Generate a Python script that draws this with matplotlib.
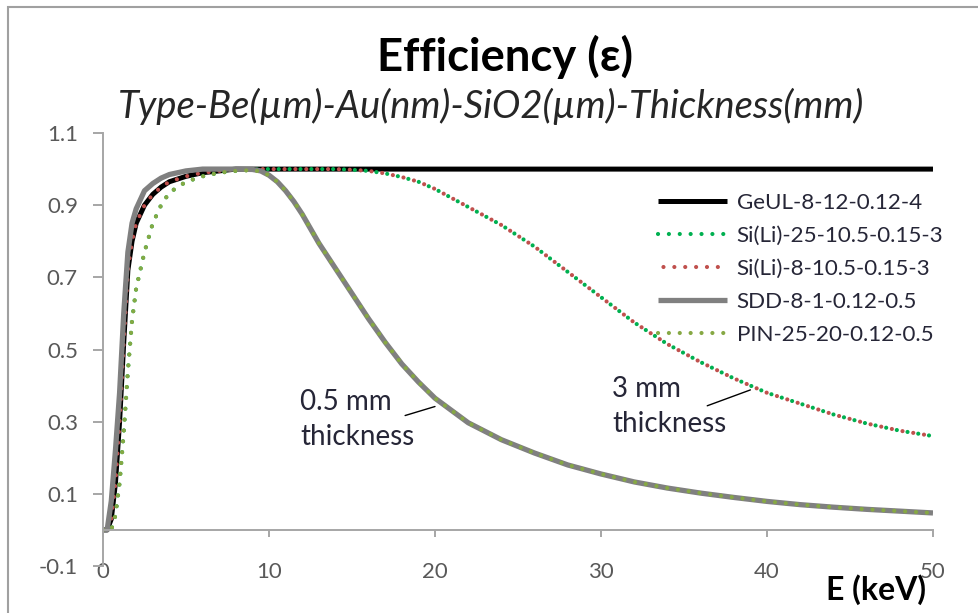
import numpy as np
import matplotlib
matplotlib.use("Agg")
import matplotlib.pyplot as plt
from matplotlib.patches import Rectangle

plt.rcParams["font.family"] = ["Lato", "DejaVu Sans"]

# photon energy (keV) and detection efficiency for each detector
energy = [0, 0.25, 0.5, 0.75, 1.0, 1.25, 1.5, 1.75, 2.0, 2.5, 3, 3.5, 4, 5, 6, 7, 8, 9,
          9.5, 10, 10.5, 11, 11.5, 12, 12.5, 13, 14, 15, 16, 17, 18, 19, 20, 22, 24, 26, 28, 30,
          32, 34, 36, 38, 40, 42, 44, 46, 48, 50]

geul = [0, 0, 0.03, 0.13, 0.30, 0.52, 0.72, 0.80, 0.85, 0.90, 0.93, 0.95, 0.965, 0.98, 0.99, 0.995, 1.0, 1.0,
        1.0, 1.0, 1.0, 1.0, 1.0, 1.0, 1.0, 1.0, 1.0, 1.0, 1.0, 1.0, 1.0, 1.0, 1.0, 1.0, 1.0, 1.0, 1.0, 1.0,
        1.0, 1.0, 1.0, 1.0, 1.0, 1.0, 1.0, 1.0, 1.0, 1.0]

sili_25 = [0, 0, 0, 0.04, 0.13, 0.27, 0.44, 0.58, 0.67, 0.77, 0.85, 0.90, 0.935, 0.965, 0.98, 0.99, 0.995, 0.998,
           1.0, 1.0, 1.0, 1.0, 1.0, 1.0, 1.0, 1.0, 1.0, 0.998, 0.995, 0.988, 0.978, 0.965, 0.945, 0.895, 0.845, 0.785, 0.715, 0.645,
           0.575, 0.515, 0.465, 0.42, 0.38, 0.35, 0.32, 0.295, 0.275, 0.26]

sili_8 = [0, 0, 0.03, 0.13, 0.30, 0.52, 0.72, 0.80, 0.85, 0.90, 0.93, 0.95, 0.965, 0.98, 0.99, 0.995, 1.0, 1.0,
          1.0, 1.0, 1.0, 1.0, 1.0, 1.0, 1.0, 1.0, 1.0, 0.998, 0.995, 0.988, 0.978, 0.965, 0.945, 0.895, 0.845, 0.785, 0.715, 0.645,
          0.575, 0.515, 0.465, 0.42, 0.38, 0.35, 0.32, 0.295, 0.275, 0.26]

sdd = [0, 0, 0.08, 0.22, 0.38, 0.60, 0.77, 0.85, 0.89, 0.94, 0.96, 0.975, 0.985, 0.995, 1.0, 1.0, 1.0, 0.999,
       0.995, 0.983, 0.965, 0.94, 0.91, 0.875, 0.835, 0.795, 0.725, 0.655, 0.585, 0.52, 0.46, 0.41, 0.365, 0.297, 0.25, 0.213, 0.18, 0.155,
       0.133, 0.116, 0.102, 0.09, 0.079, 0.07, 0.063, 0.057, 0.052, 0.047]

pin = [0, 0, 0, 0.04, 0.13, 0.27, 0.44, 0.58, 0.67, 0.77, 0.85, 0.90, 0.935, 0.965, 0.98, 0.99, 0.995, 0.997,
       0.993, 0.983, 0.965, 0.94, 0.91, 0.875, 0.835, 0.795, 0.725, 0.655, 0.585, 0.52, 0.46, 0.41, 0.365, 0.297, 0.25, 0.213, 0.18, 0.155,
       0.133, 0.116, 0.102, 0.09, 0.079, 0.07, 0.063, 0.057, 0.052, 0.047]

labels = ["GeUL-8-12-0.12-4", "Si(Li)-25-10.5-0.15-3", "Si(Li)-8-10.5-0.15-3",
          "SDD-8-1-0.12-0.5", "PIN-25-20-0.12-0.5"]
xticks = [0, 10, 20, 30, 40, 50]
yticks = [-0.1, 0.1, 0.3, 0.5, 0.7, 0.9, 1.1]

AXIS_GREY = "#a6a6a6"
TICK_TXT = "#595959"
TXT = "#262637"
dots = (0, (0.01, 2.6))
dots_shift = (1.3, (0.01, 2.6))

fig = plt.figure(figsize=(9.79, 6.13), dpi=100)
ax = fig.add_axes([0.1052, 0.0767, 0.8478, 0.7063])

ax.plot(energy, geul, color="black", lw=3.6, solid_capstyle="butt", label=labels[0])
ax.plot(energy, sili_25, color="#00b050", lw=3.0, ls=dots, dash_capstyle="round", label=labels[1])
ax.plot(energy, sili_8, color="#c0504d", lw=3.0, ls=dots_shift, dash_capstyle="round", label=labels[2])
ax.plot(energy, sdd, color="#808080", lw=3.8, solid_capstyle="butt", label=labels[3])
ax.plot(energy, pin, color="#86a844", lw=3.0, ls=dots, dash_capstyle="round", label=labels[4])

ax.set_xlim(0, 50)
ax.set_ylim(-0.1, 1.1)
ax.set_xticks(xticks)
ax.set_yticks(yticks)
ax.set_yticklabels([f"{v:.1f}" for v in yticks])

for side in ["top", "right"]:
    ax.spines[side].set_visible(False)
ax.spines["bottom"].set_position(("data", 0))
for side in ["left", "bottom"]:
    ax.spines[side].set_color(AXIS_GREY)
    ax.spines[side].set_linewidth(1.4)

ax.tick_params(axis="y", direction="out", length=7, width=1.4, color=AXIS_GREY,
               labelsize=16, labelcolor=TICK_TXT, pad=11)
ax.tick_params(axis="x", direction="out", length=5, width=1.4, color=AXIS_GREY,
               labelsize=16, labelcolor=TICK_TXT, pad=18)

leg = ax.legend(loc="upper left", bbox_to_anchor=(0.6687, 0.862), frameon=False,
                fontsize=16.1, handlelength=3.1, handletextpad=0.42,
                labelspacing=0.58, borderpad=0, borderaxespad=0)
for t in leg.get_texts():
    t.set_color(TXT)

# thickness callouts
ax.text(11.87, 0.306, "0.5 mm\nthickness", fontsize=20, color=TXT,
        ha="left", va="center", linespacing=1.42)
ax.annotate("", xy=(20.0, 0.342), xytext=(18.2, 0.317),
            arrowprops=dict(arrowstyle="-", color="black", lw=1.0, shrinkA=0, shrinkB=0))
ax.text(30.66, 0.342, "3 mm\nthickness", fontsize=20, color=TXT,
        ha="left", va="center", linespacing=1.42)
ax.annotate("", xy=(39.0, 0.388), xytext=(36.4, 0.344),
            arrowprops=dict(arrowstyle="-", color="black", lw=1.0, shrinkA=0, shrinkB=0))

fig.text(505 / 979, 1 - 57 / 613, "Efficiency (ε)", fontsize=32.8, weight="bold",
         ha="center", va="center")
fig.text(491 / 979, 1 - 106 / 613, "Type-Be(µm)-Au(nm)-SiO2(µm)-Thickness(mm)",
         fontsize=27.5, style="italic", color="#262626", ha="center", va="center")
fig.text(876 / 979, 1 - 590 / 613, "E (keV)", fontsize=23, weight="bold",
         ha="center", va="center")

# chart border
fig.patches.append(Rectangle((8 / 979, -0.1), 1.2, 1 - 7 / 613 + 0.1, transform=fig.transFigure,
                             fill=False, edgecolor="#a0a0a0", lw=1.5))

fig.savefig("out.png", dpi=100)
